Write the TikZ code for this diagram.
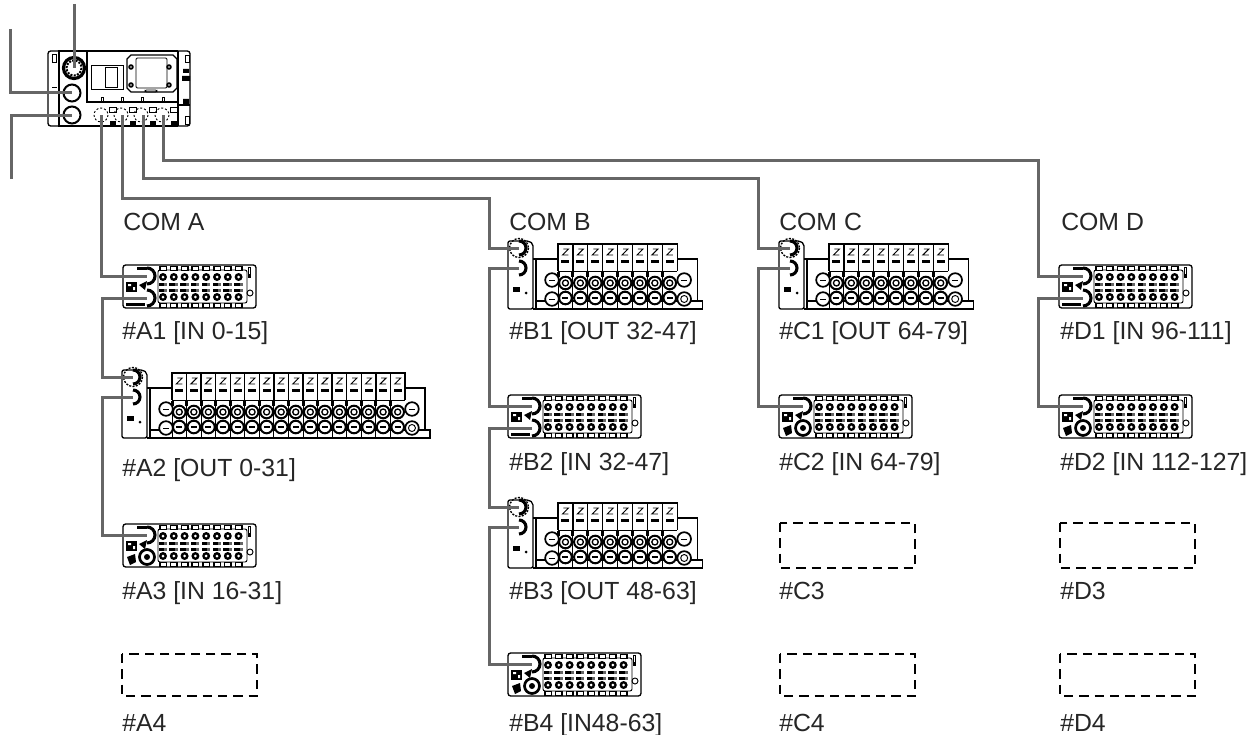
\documentclass[tikz,border=0pt]{standalone}
\usepackage{fontspec}
\setmainfont{Liberation Sans}
\tikzset{
  wire/.style={draw=black!60,line width=2.25pt,line join=miter},
  ln/.style={draw=black,line width=1pt},
  thin/.style={draw=black,line width=.7pt},
  hv/.style={draw=black,line width=2.3pt},
  lab/.style={anchor=base west,inner sep=0pt,font=\fontsize{18.6pt}{20pt}\selectfont,text=black!85},
  empty/.style={draw=black,line width=.8pt,dash pattern=on 7pt off 4.5pt},
}
% port horseshoe, opening left
\newcommand{\shoe}[3]{\draw[hv] (#1,#2-#3) arc[start angle=-90,end angle=90,radius=#3];}
\newcommand{\InMod}[4]{% name x y type(0 shoe,1 round) 
\begin{scope}[shift={(#2,#3)}]
 \draw[ln,rounded corners=2] (0,0) rectangle (133,43);
 \draw[thin,rounded corners=1.5] (35,5) rectangle (124,38);
 \fill[black] (124.5,2) rectangle (128,13);
 \fill[white] (125.5,3) rectangle (127,9);
 \draw[thin] (127,28) circle (3);
 \foreach \i in {0,...,7}{
  \pgfmathsetmacro\xx{40+10.8*\i}
  \fill[black] (\xx-4,0.5) rectangle (\xx+4,5.5);
  \fill[white] (\xx-2.5,1.7) rectangle (\xx+2.5,4.5);
  \fill[black] (\xx-4,37.5) rectangle (\xx+4,42.5);
  \fill[white] (\xx-2.5,38.7) rectangle (\xx+2.5,41.5);
  \fill[black] (\xx,12) circle (4); \fill[white] (\xx,12) circle (1.5);
  \fill[black] (\xx,32) circle (4); \fill[white] (\xx,32) circle (1.5);
  \fill[black] (\xx-4.5,18) rectangle (\xx+1,20.5);
  \fill[black!60] (\xx+1,18) rectangle (\xx+4,20.5);
  \fill[black] (\xx-4.5,24) rectangle (\xx+1,26.5);
  \fill[black!60] (\xx+1,24) rectangle (\xx+4,26.5);
 }
 \fill[black] (3,17) rectangle (14,27);
 \fill[white] (5,19) rectangle (8,21) (10,22) rectangle (12,25);
 \fill[black] (14,2) rectangle (24,5);
 \fill[black] (16,20) -- (24,16) -- (22,25) -- cycle;
 \shoe{24}{11}{8}
 \coordinate (#1-p) at (24,11);
 \coordinate (#1-q) at (24,33);
 \ifnum#4=0
  \shoe{24}{33}{8}
  \fill[black] (3,38) rectangle (22,41);
 \else
  \draw[black,line width=2pt] (24,33) circle (7.5);
  \fill[black] (24,33) circle (3);
  \fill[black] (4,33) -- (12,30) -- (13,38) -- (7,41) -- cycle;
 \fi
\end{scope}}
\newcommand{\OutMod}[5]{% name x y slots slotwidth
\begin{scope}[shift={(#2,#3)}]
 \pgfmathsetmacro\xe{50+#5*#4}
 \draw[ln,rounded corners=1.5] (0,0) -- (21,0) -- (25,3) -- (25,68) -- (0,68) -- cycle;
 \draw[ln] (25,18) -- (50,18) -- (50,3) -- (\xe,3) -- (\xe,18) -- (\xe+20,18) -- (\xe+20,60) -- (\xe+25,60) -- (\xe+25,68) -- (25,68);
 \draw[ln] (28,18) -- (28,68) (28,60) -- (\xe+20,60);
 \draw[thin] (50,30) -- (\xe,30);
 \draw[black,line width=1.3pt,fill=white] (44,39) circle (6.8) (44,58) circle (6.8) (\xe+7,39) circle (6.8) (\xe+7,58) circle (6.8);
 \draw[thin] (41,39) -- (47,39) (41,58) -- (47,58) (\xe+4,39) -- (\xe+10,39);
 \draw[thin] (\xe+7,58) circle (3.5);
 \draw[ln] (\xe,3) -- (\xe,30);
 \foreach \i in {1,...,#4}{
  \pgfmathsetmacro\xa{50+#5*(\i-1)}
  \pgfmathsetmacro\xc{\xa+#5/2}
  \draw[ln] (\xa,3) -- (\xa,30);
  \draw[thin] (\xc-2,8) -- (\xc+3,8) -- (\xc-3,14) -- (\xc+3,14);
  \fill[black] (\xc-4,19) rectangle (\xc+4,22);
  \draw[thin] (\xa,32) -- (\xa,68);
  \fill[black] (\xa-1.5,31) rectangle (\xa+1.5,36);
  \draw[black,line width=1.5pt,fill=white] (\xc,42) circle (6.3);
  \draw[black,line width=1pt] (\xc,42) circle (3);
  \draw[black,line width=1.5pt,fill=white] (\xc,57) circle (6.3);
  \draw[black,line width=1pt] (\xc-3,57) -- (\xc+3,57);
 }
 \draw[black,line width=1pt,dash pattern=on 1.5pt off 1pt] (11,7) circle (9.5);
 \shoe{11}{7}{7}
 \shoe{11}{27}{7}
 \fill[black] (5,46) rectangle (12,51); \fill[black] (18,52) circle (1.5);
 \coordinate (#1-p) at (11,7);
 \coordinate (#1-q) at (11,27);
\end{scope}}
\begin{document}
\begin{tikzpicture}[x=.75pt,y=-.75pt]
\useasboundingbox (0,0) rectangle (1260,735);
% controller
\draw[ln,rounded corners=2] (48,51) rectangle (190,126);
\draw[line width=1.5pt] (58,51) -- (178,51) (58,126) -- (178,126);
\draw[ln] (59,51) -- (59,126) (178,51) -- (178,126);
\draw[line width=1.6pt] (87,51) -- (87,102) -- (178,102);
\draw[thin] (52,54) rectangle (56,62) (185,55) rectangle (189,62) (185,116) rectangle (189,124);
\draw[thin] (91,65) rectangle (123,89) (105,67) rectangle (117,87);
\draw[ln] (127,59) -- (131,55) -- (173,55) -- (177,59) -- (177,88) -- (173,92) -- (131,92) -- (127,88) -- cycle;
\draw[thin,rounded corners=1] (136,58) rectangle (167,88) (145,90) rectangle (157,92);
\foreach \x/\y in {131/67,169/67,131/85,169/85}{\fill (\x,\y) circle (2.8); \fill[white] (\x,\y) circle (.8);}
\foreach \x in {102,122,142,163}{\draw[thin] (\x-1,97) rectangle (\x+1,102);
  \draw[thin] (\x+7,107) rectangle (\x+14,112);
  \fill (\x+8,121) rectangle (\x+14,125);
  \draw[thin,dash pattern=on 1.5pt off 1.5pt] (\x-1,115) circle (7);}
\fill (183,69) rectangle (189,73) (182,76) rectangle (190,81) (183,99) rectangle (189,104);
\draw[ln] (178,105) -- (190,105);
\draw[thin] (52,87) -- (57,87);
\draw[black,line width=2.4pt] (74,68) circle (10.5);
\draw[black,line width=1.5pt,dash pattern=on 1.5pt off 1pt] (74,68) circle (7.5);
\draw[line width=1.5pt] (72,93) circle (8.5);
\draw[line width=1.5pt] (72,115) circle (8.5);
\coordinate (top) at (74,68);
\coordinate (topend) at (74,4);
\coordinate (pa) at (72,93);
\coordinate (paend) at (10,29);
\coordinate (pb) at (72,115);
\coordinate (pbend) at (11,179);
\coordinate (ca) at (101,115);
\coordinate (cb) at (122,115);
\coordinate (cc) at (143,115);
\coordinate (cd) at (163,115);
% modules
\InMod{a1}{123}{265}{0}
\OutMod{a2}{122}{370}{16}{14.56}
\InMod{a3}{123}{524}{1}
\OutMod{b1}{508}{241}{8}{14.9}
\InMod{b2}{508}{395}{0}
\OutMod{b3}{508}{500}{8}{14.9}
\InMod{b4}{508}{653}{1}
\OutMod{c1}{779}{241}{8}{14.9}
\InMod{c2}{779}{395}{1}
\InMod{d1}{1059}{265}{0}
\InMod{d2}{1059}{395}{1}
% wires
\coordinate (ja) at (102,298);
\coordinate (jb) at (102,398);
\coordinate (bb) at (489,198);
\coordinate (jb1) at (489,268);
\coordinate (jb2) at (489,428);
\coordinate (jb3) at (489,527);
\coordinate (cbend) at (758,178);
\coordinate (jc1) at (758,268);
\coordinate (dbend) at (1038,160);
\coordinate (jd1) at (1038,298);
\draw[wire] (topend) -- (top);
\draw[wire] (paend) |- (pa);
\draw[wire] (pbend) |- (pb);
\draw[wire] (ca) |- (a1-p);
\draw[wire] (a1-q) -| (ja) |- (a2-p);
\draw[wire] (a2-q) -| (jb) |- (a3-p);
\draw[wire] (cb) |- (bb) |- (b1-p);
\draw[wire] (b1-q) -| (jb1) |- (b2-p);
\draw[wire] (b2-q) -| (jb2) |- (b3-p);
\draw[wire] (b3-q) -| (jb3) |- (b4-p);
\draw[wire] (cc) |- (cbend) |- (c1-p);
\draw[wire] (c1-q) -| (jc1) |- (c2-p);
\draw[wire] (cd) |- (dbend) |- (d1-p);
\draw[wire] (d1-q) -| (jd1) |- (d2-p);
% empties
\draw[empty] (122,654) rectangle (257,696);
\draw[empty] (780,523) rectangle (915,568);
\draw[empty] (1060,523) rectangle (1195,568);
\draw[empty] (780,654) rectangle (915,696);
\draw[empty] (1060,654) rectangle (1195,696);
% labels
\node[lab] (la) at (123,230) {COM A};
\node[lab] (lb) at (509,230) {COM B};
\node[lab] (lc) at (779,230) {COM C};
\node[lab] (ld) at (1061,230) {COM D};
\node[lab] (ta1) at (122,339) {\#A1 [IN 0-15]};
\node[lab] (ta2) at (122,476) {\#A2 [OUT 0-31]};
\node[lab] (ta3) at (122,599) {\#A3 [IN 16-31]};
\node[lab] (ta4) at (122,731) {\#A4};
\node[lab] (tb1) at (509,339) {\#B1 [OUT 32-47]};
\node[lab] (tb2) at (509,470) {\#B2 [IN 32-47]};
\node[lab] (tb3) at (509,599) {\#B3 [OUT 48-63]};
\node[lab] (tb4) at (509,731) {\#B4 [IN48-63]};
\node[lab] (tc1) at (779,339) {\#C1 [OUT 64-79]};
\node[lab] (tc2) at (779,470) {\#C2 [IN 64-79]};
\node[lab] (tc3) at (779,599) {\#C3};
\node[lab] (tc4) at (779,731) {\#C4};
\node[lab] (td1) at (1060,339) {\#D1 [IN 96-111]};
\node[lab] (td2) at (1060,470) {\#D2 [IN 112-127]};
\node[lab] (td3) at (1060,599) {\#D3};
\node[lab] (td4) at (1060,731) {\#D4};
\end{tikzpicture}
\end{document}
